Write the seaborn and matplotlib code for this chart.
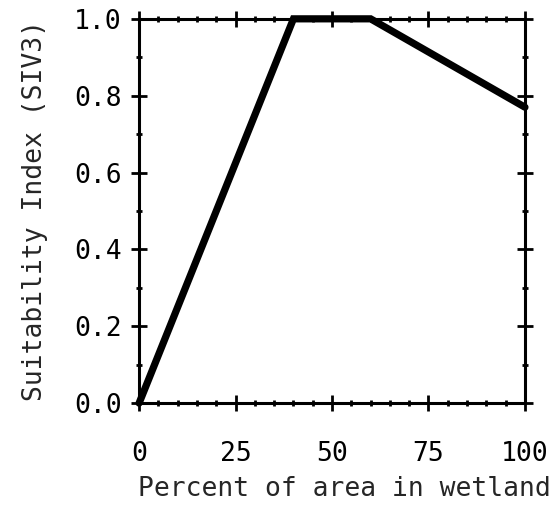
import matplotlib
matplotlib.use("Agg")
import matplotlib.pyplot as plt
import seaborn as sns
import pandas as pd
from matplotlib.ticker import MultipleLocator

pct_wetland = [0, 40, 60, 100]
suitability = [0.0, 1.0, 1.0, 0.77]
x_ticks = [0, 25, 50, 75, 100]
y_ticks = [0.0, 0.2, 0.4, 0.6, 0.8, 1.0]

sns.set_style("white")
plt.rcParams['font.family'] = ['DejaVu Sans Mono']

df = pd.DataFrame({"x": pct_wetland, "y": suitability})

fig = plt.figure(figsize=(5.52, 5.09), dpi=100)
ax = fig.add_axes([0.252, 0.208, 0.699, 0.755])
sns.lineplot(data=df, x="x", y="y", ax=ax, color="black", linewidth=5.2,
             solid_joinstyle="miter", clip_on=False)

ax.set_xlim(0, 100)
ax.set_ylim(0, 1.0)
ax.set_xticks(x_ticks)
ax.set_xticklabels([str(v) for v in x_ticks])
ax.set_yticks(y_ticks)
ax.set_yticklabels([f"{v:.1f}" for v in y_ticks])
ax.xaxis.set_minor_locator(MultipleLocator(5))
ax.yaxis.set_minor_locator(MultipleLocator(0.1))

for s in ax.spines.values():
    s.set_visible(True)
    s.set_color("black")
    s.set_linewidth(2.2)

ax.tick_params(which="major", direction="inout", length=11, width=2,
               labelsize=19, top=True, right=True, bottom=True, left=True,
               colors="black", pad=22)
ax.tick_params(which="minor", direction="inout", length=5, width=2,
               top=True, right=True, bottom=True, left=True, colors="black")
ax.tick_params(axis="y", which="major", pad=7)

ax.set_xlabel("Percent of area in wetland", fontsize=19)
ax.xaxis.set_label_coords(0.532, -0.19)
ax.set_ylabel("Suitability Index (SIV3)", fontsize=19)
ax.yaxis.set_label_coords(-0.235, 0.5)

fig.savefig("out.png", dpi=100)
